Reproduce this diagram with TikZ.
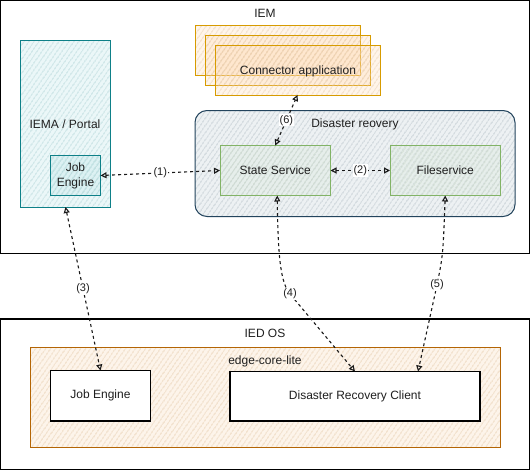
\documentclass[tikz,border=0pt]{standalone}
\usepackage{fontspec}
\setmainfont{Liberation Sans}
\usetikzlibrary{arrows.meta,patterns.meta}
\definecolor{tealline}{HTML}{0E8088}
\definecolor{tealfill}{HTML}{B0E3E6}
\definecolor{orline}{HTML}{D79B00}
\definecolor{orfill}{HTML}{FFD9AE}
\definecolor{navyline}{HTML}{23445D}
\definecolor{navyfill}{HTML}{BAC8D3}
\definecolor{grline}{HTML}{82B366}
\definecolor{grfill}{HTML}{D5E8D4}
\definecolor{brline}{HTML}{B46504}
\definecolor{brfill}{HTML}{FAD7AC}
\begin{document}
\begin{tikzpicture}[x=1pt, y=-1pt,
  font=\fontsize{12}{15}\selectfont, text=black!88,
  box/.style={draw, rectangle, inner sep=0pt, outer sep=0pt, line width=1pt},
  hatch/.style={preaction={fill=#1, fill opacity=0.25},
    pattern={Lines[angle=55, distance=4pt, line width=0.7pt]}, pattern color=#1!80!gray},
  tip/.tip={Triangle[open, length=6pt, width=6pt]},
  arr/.style={draw=black!90, dash pattern=on 3pt off 3pt, line width=1.1pt, tip-tip},
  lbl/.style={fill=white, inner sep=1pt, font=\fontsize{11}{13}\selectfont}]
\useasboundingbox (0,0) rectangle (531,471);
\draw (265,127) node[box, line width=1.2pt, fill=white, minimum width=529pt, minimum height=253pt] (IEM) {};
\draw (265,394.25) node[box, line width=1.2pt, fill=white, minimum width=529pt, minimum height=150.5pt] (OS) {};
\draw (277.5,50) node[box, draw=orline, hatch=orfill, minimum width=165pt, minimum height=50pt] (C1) {};
\draw (287.5,60) node[box, draw=orline, hatch=orfill, minimum width=165pt, minimum height=50pt] (C2) {};
\draw (297.5,70) node[box, draw=orline, hatch=orfill, minimum width=165pt, minimum height=50pt] (C3) {};
\draw (65.5,123.75) node[box, draw=tealline, hatch=tealfill, minimum width=90pt, minimum height=166.5pt] (P) {};
\draw (75.5,175.5) node[box, draw=tealline, line width=1.2pt, hatch=tealfill, minimum width=50pt, minimum height=40pt, align=center] (J) {Job\\Engine};
\draw (355,163.5) node[box, draw=navyline, rounded corners=12pt, hatch=navyfill, minimum width=320pt, minimum height=106pt] (D) {};
\draw (275.25,170.5) node[box, draw=grline, hatch=grfill, minimum width=110.5pt, minimum height=50pt] (S) {State Service};
\draw (445.25,170.5) node[box, draw=grline, hatch=grfill, minimum width=110.5pt, minimum height=50pt] (F) {Fileservice};
\draw (265.5,397.5) node[box, draw=brline, hatch=brfill, minimum width=470pt, minimum height=100pt] (E) {};
\draw (100.5,395.75) node[box, line width=1.2pt, fill=white, minimum width=100pt, minimum height=50.5pt] (K) {Job Engine};
\draw (355,396.25) node[box, line width=1.2pt, fill=white, minimum width=250pt, minimum height=49.5pt] (R) {Disaster Recovery Client};
\draw (265,13.5) node (IEMT) {IEM};
\draw (298,71) node (CT) {Connector application};
\draw (65,124) node (PT) {IEMA / Portal};
\draw (355,124.5) node (DT) {Disaster reovery};
\draw (265,333.5) node (OST) {IED OS};
\draw (265,361) node (ET) {edge-core-lite};
\draw[arr] (J.east) -- node[lbl] {(1)} (S.west);
\draw[arr] (S.east) -- node[lbl] {(2)} (F.west);
\draw[arr] (S.north) -- node[lbl] {(6)} (C3.south);
\draw[arr] (P.south) -- node[lbl] {(3)} (K.north);
\draw[arr] ([xshift=2pt]S.south) .. controls (278,260) and (281,283) .. (290,294) node[lbl] {(4)} -- (R.north);
\draw[arr] (F.south) .. controls (443,255) .. (437,285) node[lbl] {(5)} -- ([xshift=63pt]R.north);
\end{tikzpicture}
\end{document}
